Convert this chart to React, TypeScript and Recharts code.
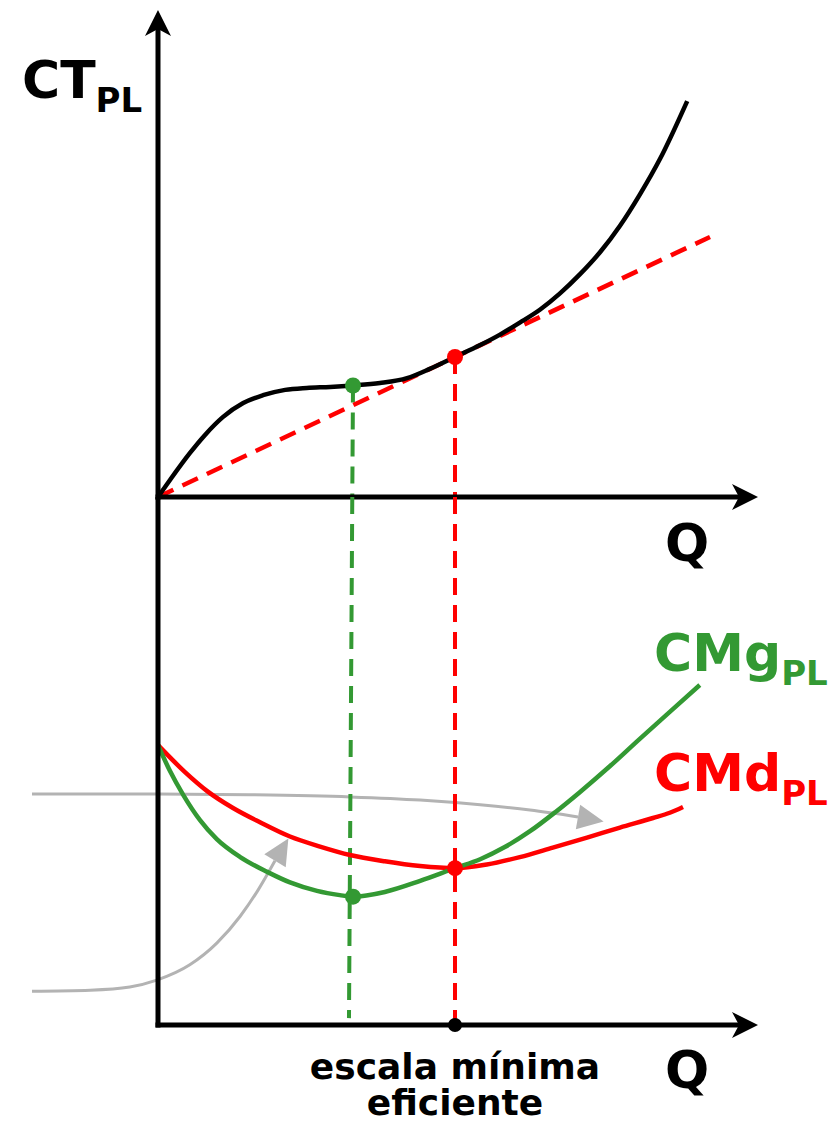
import React from 'react';
import { ComposedChart, Line, XAxis, YAxis, ReferenceLine, ReferenceDot } from 'recharts';

// ---------- data (Q in quantity units, costs in cost units) ----------
// Top panel: total cost curve CT_PL
const ctQ = [0, 0.2, 0.53, 0.78, 1.08, 1.42, 1.75, 2.12, 2.48, 2.87, 3.25, 3.7, 4.15, 4.53, 4.95, 5.37, 5.7, 6.03, 6.37, 6.7, 7.03, 7.37, 7.7, 8.03, 8.37, 8.82];
const ctValues = [0, 0.35, 0.9, 1.27, 1.64, 1.93, 2.09, 2.2, 2.24, 2.26, 2.29, 2.34, 2.44, 2.63, 2.875, 3.12, 3.335, 3.58, 3.85, 4.18, 4.57, 5.03, 5.57, 6.21, 6.95, 8.13];
// Ray from origin tangent to CT
const rayQ = [0, 9.2];
const rayValues = [0, 5.34];

// Bottom panel: marginal cost and average cost
const cmgQ = [0, 0.2, 0.42, 0.7, 0.98, 1.37, 1.82, 2.2, 2.65, 3.03, 3.25, 3.78, 4.37, 4.95, 5.37, 5.78, 6.2, 6.62, 7.03, 7.53, 8.03, 8.53, 9.03];
const cmgValues = [5.3, 4.81, 4.36, 3.88, 3.52, 3.18, 2.9, 2.7, 2.54, 2.46, 2.43, 2.52, 2.73, 2.97, 3.14, 3.37, 3.67, 4.03, 4.41, 4.9, 5.42, 5.93, 6.44];
const cmdQ = [0, 0.45, 0.82, 1.25, 1.7, 2.2, 2.7, 3.2, 3.78, 4.37, 4.95, 5.48, 6.03, 6.58, 7.15, 7.7, 8.25, 8.53, 8.75];
const cmdValues = [5.3, 4.79, 4.43, 4.11, 3.84, 3.57, 3.38, 3.22, 3.1, 3.01, 2.97, 3.04, 3.18, 3.36, 3.55, 3.74, 3.92, 4.02, 4.13];

// Gray annotation arrows
const gray1Q = [-2.1, -0.97, 0, 1.53, 3.2, 4.37, 5.37, 6.2, 7.0];
const gray1Values = [4.375, 4.375, 4.375, 4.36, 4.32, 4.26, 4.17, 4.07, 3.94];
const gray2Q = [-2.1, -1.13, -0.47, -0.02, 0.53, 0.98, 1.37, 1.67, 1.95];
const gray2Values = [0.64, 0.66, 0.72, 0.85, 1.14, 1.55, 2.06, 2.56, 3.11];

// Key points
const qInflection = 3.25; // min marginal cost
const qMinAvg = 4.95; // minimum efficient scale
const ctAtInflection = 2.29;
const ctAtMinAvg = 2.875;
const cmgMin = 2.43;
const cmdMin = 2.97;

// Labels
const labelCT = 'CT';
const labelSub = 'PL';
const labelQ = 'Q';
const labelCMg = 'CMg';
const labelCMd = 'CMd';
const labelScale1 = 'escala mínima';
const labelScale2 = 'eficiente';

const toData = (qs: number[], vs: number[]) => qs.map((q, i) => ({ q, c: vs[i] }));
const ctData = toData(ctQ, ctValues);
const rayData = toData(rayQ, rayValues);
const cmgData = toData(cmgQ, cmgValues);
const cmdData = toData(cmdQ, cmdValues);
const gray1Data = toData(gray1Q, gray1Values);
const gray2Data = toData(gray2Q, gray2Values);

// ---------- style ----------
const FONT = '"DejaVu Sans", Verdana, sans-serif';
const GREEN = '#339933';
const RED = '#ff0000';
const GRAY = '#b3b3b3';
const Q_MIN = -2.6333;
const Q_MAX = 11.2333;
const CURVE_W = 4.5;
const AXIS_W = 5;
const DASH = '17 10';

const AxisArrow = (angle: number) => (p: any) => (
  <path d="M0,0 L-26,-13 L-19,0 L-26,13 Z" transform={`translate(${p.cx},${p.cy}) rotate(${angle})`} fill="#000" />
);

const grayHeadDot = (angle: number, lastIndex: number) => (p: any) => {
  if (p.index !== lastIndex) return <g key={p.index} />;
  return (
    <path key={p.index} d="M26,0 L0,-12.5 L0,12.5 Z" transform={`translate(${p.cx},${p.cy}) rotate(${angle})`} fill={GRAY} />
  );
};

const subLabel = (main: string, color: string) => (p: any) => (
  <text x={p.cx} y={p.cy} fontFamily={FONT} fontWeight="bold" fontSize={52} fill={color}>
    {main}
    <tspan fontSize={34} dy={14}>{labelSub}</tspan>
  </text>
);

const plainLabel = (t: string, size: number) => (p: any) => (
  <text x={p.cx} y={p.cy} fontFamily={FONT} fontWeight="bold" fontSize={size} fill="#000">{t}</text>
);

const scaleLabel = (p: any) => (
  <text x={p.cx} y={p.cy} fontFamily={FONT} fontWeight="bold" fontSize={36} fill="#000" textAnchor="middle">
    {labelScale1}
    <tspan x={p.cx} dy={36}>{labelScale2}</tspan>
  </text>
);

const dotShape = (color: string, r: number) => (p: any) => <circle cx={p.cx} cy={p.cy} r={r} fill={color} />;

export default function App() {
  return (
    <div style={{ position: 'absolute', left: 0, top: 0, width: 832, height: 1121 }}>
      {/* Top panel */}
      <div style={{ position: 'absolute', left: 0, top: 0 }}>
        <ComposedChart width={832} height={600} margin={{ top: 10, right: 0, bottom: 103, left: 0 }}>
          <XAxis type="number" dataKey="q" domain={[Q_MIN, Q_MAX]} allowDataOverflow hide />
          <YAxis type="number" dataKey="c" domain={[0, 10]} allowDataOverflow hide />
          <ReferenceLine segment={[{ x: qInflection, y: ctAtInflection }, { x: 3.238, y: 0 }]} stroke={GREEN} strokeWidth={4} strokeDasharray={DASH} />
          <ReferenceLine segment={[{ x: qMinAvg, y: ctAtMinAvg }, { x: qMinAvg, y: 0 }]} stroke={RED} strokeWidth={4} strokeDasharray={DASH} />
          <Line data={rayData} dataKey="c" type="linear" stroke={RED} strokeWidth={4.5} strokeDasharray={DASH} dot={false} isAnimationActive={false} />
          <Line data={ctData} dataKey="c" type="monotone" stroke="#000" strokeWidth={CURVE_W} dot={false} isAnimationActive={false} />
          <ReferenceLine segment={[{ x: 0, y: 0 }, { x: 0, y: 9.8 }]} stroke="#000" strokeWidth={AXIS_W} strokeLinecap="square" />
          <ReferenceLine segment={[{ x: 0, y: 0 }, { x: 9.85, y: 0 }]} stroke="#000" strokeWidth={AXIS_W} strokeLinecap="square" />
          <ReferenceDot x={0} y={10} ifOverflow="visible" shape={AxisArrow(-90)} />
          <ReferenceDot x={10} y={0} ifOverflow="visible" shape={AxisArrow(0)} />
          <ReferenceDot x={qInflection} y={ctAtInflection} ifOverflow="visible" shape={dotShape(GREEN, 8)} />
          <ReferenceDot x={qMinAvg} y={ctAtMinAvg} ifOverflow="visible" shape={dotShape(RED, 8)} />
          <ReferenceDot x={-2.267} y={8.19} ifOverflow="visible" shape={subLabel(labelCT, '#000')} />
          <ReferenceDot x={8.45} y={-1.31} ifOverflow="visible" shape={plainLabel(labelQ, 52)} />
        </ComposedChart>
      </div>
      {/* Bottom panel */}
      <div style={{ position: 'absolute', left: 0, top: 497 }}>
        <ComposedChart width={832} height={624} margin={{ top: 0, right: 0, bottom: 96, left: 0 }}>
          <XAxis type="number" dataKey="q" domain={[Q_MIN, Q_MAX]} allowDataOverflow hide />
          <YAxis type="number" dataKey="c" domain={[0, 10]} allowDataOverflow hide />
          <Line data={gray1Data} dataKey="c" type="monotone" stroke={GRAY} strokeWidth={3} dot={grayHeadDot(10, gray1Data.length - 1)} isAnimationActive={false} />
          <Line data={gray2Data} dataKey="c" type="monotone" stroke={GRAY} strokeWidth={3} dot={grayHeadDot(-59, gray2Data.length - 1)} isAnimationActive={false} />
          <ReferenceLine segment={[{ x: 3.238, y: 10 }, { x: 3.183, y: 0.13 }]} stroke={GREEN} strokeWidth={4} strokeDasharray={DASH} />
          <ReferenceLine segment={[{ x: qMinAvg, y: 10 }, { x: qMinAvg, y: 0 }]} stroke={RED} strokeWidth={4} strokeDasharray={DASH} />
          <Line data={cmdData} dataKey="c" type="monotone" stroke={RED} strokeWidth={CURVE_W} dot={false} isAnimationActive={false} />
          <Line data={cmgData} dataKey="c" type="monotone" stroke={GREEN} strokeWidth={CURVE_W} dot={false} isAnimationActive={false} />
          <ReferenceLine segment={[{ x: 0, y: 0 }, { x: 0, y: 10 }]} stroke="#000" strokeWidth={AXIS_W} strokeLinecap="square" />
          <ReferenceLine segment={[{ x: 0, y: 0 }, { x: 9.85, y: 0 }]} stroke="#000" strokeWidth={AXIS_W} strokeLinecap="square" />
          <ReferenceDot x={10} y={0} ifOverflow="visible" shape={AxisArrow(0)} />
          <ReferenceDot x={qInflection} y={cmgMin} ifOverflow="visible" shape={dotShape(GREEN, 8)} />
          <ReferenceDot x={qMinAvg} y={cmdMin} ifOverflow="visible" shape={dotShape(RED, 8)} />
          <ReferenceDot x={qMinAvg} y={0} ifOverflow="visible" shape={dotShape('#000', 7)} />
          <ReferenceDot x={8.267} y={6.7} ifOverflow="visible" shape={subLabel(labelCMg, GREEN)} />
          <ReferenceDot x={8.267} y={4.43} ifOverflow="visible" shape={subLabel(labelCMd, RED)} />
          <ReferenceDot x={8.45} y={-1.19} ifOverflow="visible" shape={plainLabel(labelQ, 52)} />
          <ReferenceDot x={qMinAvg} y={-1.02} ifOverflow="visible" shape={scaleLabel} />
        </ComposedChart>
      </div>
    </div>
  );
}
